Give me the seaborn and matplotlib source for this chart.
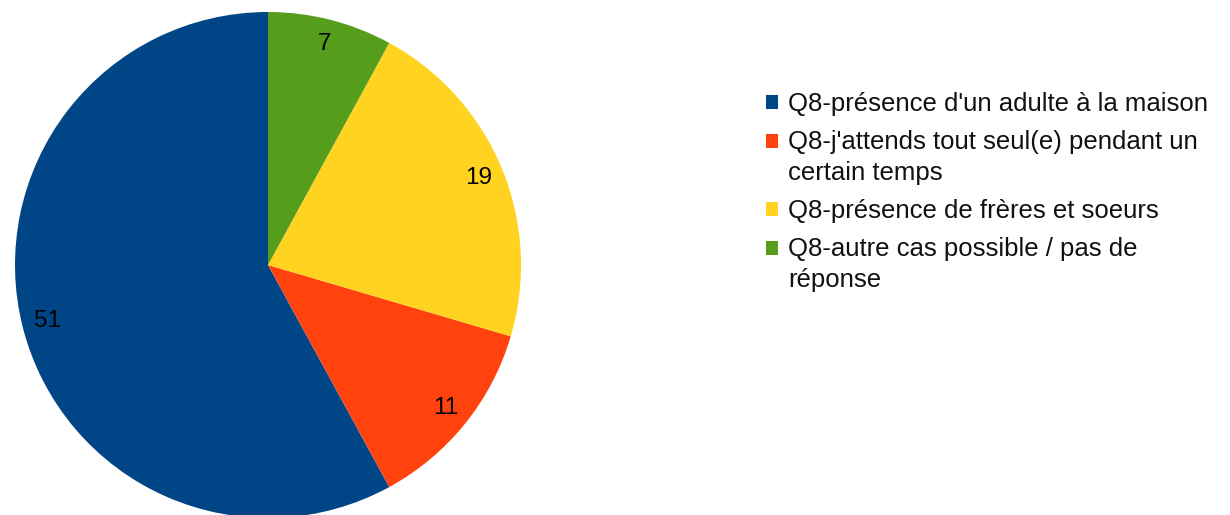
import matplotlib
matplotlib.use('Agg')
import matplotlib.pyplot as plt
import seaborn as sns
from matplotlib.patches import Patch
from matplotlib.legend_handler import HandlerPatch

sns.set_style('white')
plt.rcParams['font.family'] = ['Liberation Sans', 'DejaVu Sans']

# Data
categories = [
    "Q8-présence d'un adulte à la maison",
    "Q8-j'attends tout seul(e) pendant un\ncertain temps",
    "Q8-présence de frères et soeurs",
    "Q8-autre cas possible / pas de\nréponse",
]
values = [51, 11, 19, 7]
colors = ['#004586', '#ff420e', '#ffd320', '#579d1c']

total = sum(values)


class RaisedPatch(HandlerPatch):
    # put the square next to the first line of a wrapped label
    def __init__(self, shift, **kw):
        super().__init__(**kw)
        self.shift = shift

    def create_artists(self, legend, orig_handle, xdescent, ydescent,
                       width, height, fontsize, trans):
        return super().create_artists(legend, orig_handle, xdescent,
                                      ydescent - self.shift, width, height,
                                      fontsize, trans)


fig = plt.figure(figsize=(12.3, 5.15), dpi=100)
ax = fig.add_axes([15 / 1230, -3 / 515, 506 / 1230, 506 / 515])

ax.pie(values, colors=colors, startangle=90, counterclock=True,
       autopct=lambda p: f'{round(p * total / 100)}', pctdistance=0.9,
       textprops={'fontsize': 17.5, 'color': 'black'},
       wedgeprops={'linewidth': 0})
ax.set_xlim(-1, 1)
ax.set_ylim(-1, 1)
ax.set_aspect('equal')

handles = [Patch(facecolor=c, edgecolor='none') for c in colors]
hmap = {h: RaisedPatch(12.2 if '\n' in lab else 0) for h, lab in zip(handles, categories)}
leg = fig.legend(handles, categories, loc='upper left',
                 bbox_to_anchor=(766 / 1230, 1 - 92 / 515),
                 frameon=False, fontsize=18.5, labelcolor='#111111',
                 handlelength=0.45, handleheight=0.45, handler_map=hmap,
                 handletextpad=0.42, labelspacing=0.55, borderpad=0, borderaxespad=0)
for t in leg.get_texts():
    t.set_linespacing(1.36)

fig.savefig('out.png', dpi=100)
